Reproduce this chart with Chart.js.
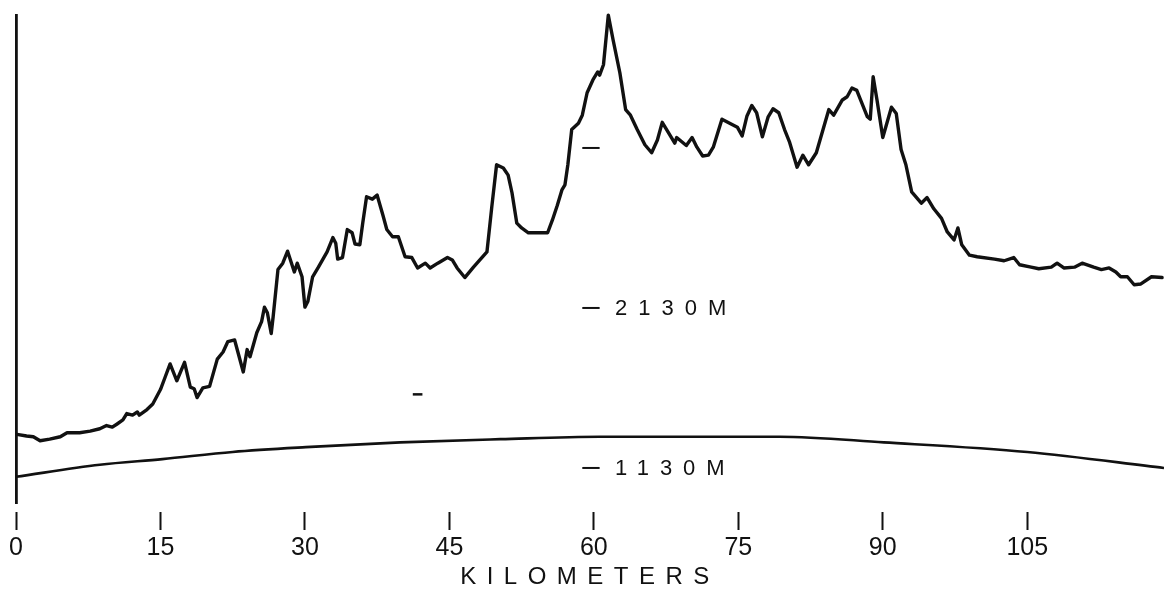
<!DOCTYPE html>
<html>
<head>
<meta charset="utf-8">
<title>Profile</title>
<script src="https://cdn.jsdelivr.net/npm/chart.js@4"></script>
<style>
  html, body { margin: 0; padding: 0; background: #fff; }
  #wrap { width: 1164px; height: 591px; position: relative; }
</style>
</head>
<body>
<div id="wrap"><canvas id="profile"></canvas></div>
<script>
// distance along the profile (km) and elevation (m)
const profileKm = [0.1,1.1,1.8,2.5,3.5,4.6,5.3,6.6,7.7,8.7,
  9.4,10.0,10.5,11.1,11.5,12.1,12.6,12.8,13.6,14.2,
  15.0,15.5,16.0,16.7,17.5,18.1,18.5,18.8,19.4,20.1,
  20.9,21.5,22.0,22.7,23.6,24.0,24.3,25.0,25.5,25.8,
  26.1,26.5,26.7,27.2,27.7,28.2,28.9,29.2,29.7,30.0,
  30.3,30.8,31.4,32.3,32.9,33.2,33.4,33.9,34.4,34.9,
  35.2,35.7,36.0,36.4,37.0,37.5,38.1,38.5,39.1,39.7,
  40.4,41.1,41.7,42.5,43.0,43.8,44.8,45.3,45.8,46.6,
  47.5,48.9,49.4,49.9,50.6,51.1,51.5,52.0,52.5,53.2,
  55.2,55.7,56.2,56.7,57.0,57.3,57.7,58.4,58.8,59.3,
  59.9,60.4,60.6,61.0,61.5,62.0,62.7,63.3,63.8,64.5,
  65.3,66.0,66.6,67.1,67.9,68.4,68.6,69.6,70.2,70.7,
  71.3,71.9,72.4,73.3,74.1,74.9,75.4,75.9,76.4,76.9,
  77.5,78.1,78.6,79.2,79.8,80.3,81.1,81.7,82.3,83.1,
  84.4,84.9,85.8,86.3,86.8,87.3,88.4,88.7,89.0,89.4,
  90.0,90.9,91.4,91.9,92.4,93.0,94.0,94.6,95.3,96.1,
  96.7,97.4,97.8,98.2,99.0,99.8,101.6,102.6,103.6,104.2,
  105.4,106.2,107.5,108.1,108.8,109.9,110.7,111.9,112.7,113.5,
  114.2,114.7,115.4,116.1,116.8,117.9,119.0];
const profileElev = [1340,1330,1325,1300,1310,1325,1350,1350,1360,1375,
  1395,1385,1405,1430,1470,1460,1480,1460,1495,1530,
  1620,1700,1780,1675,1790,1635,1625,1570,1630,1640,
  1810,1855,1920,1930,1730,1870,1825,1975,2045,2135,
  2100,1970,2075,2370,2410,2485,2355,2410,2325,2135,
  2170,2325,2385,2480,2570,2535,2435,2445,2620,2600,
  2530,2525,2660,2825,2810,2835,2710,2620,2575,2575,
  2450,2445,2380,2410,2380,2410,2445,2430,2380,2320,
  2385,2480,2760,3025,3005,2960,2850,2660,2630,2600,
  2600,2680,2770,2870,2900,3025,3245,3285,3335,3475,
  3555,3605,3585,3650,3960,3805,3600,3370,3335,3245,
  3150,3100,3180,3290,3210,3160,3195,3145,3195,3135,
  3080,3085,3135,3310,3285,3260,3205,3330,3395,3350,
  3200,3325,3375,3350,3245,3170,3010,3085,3025,3100,
  3370,3335,3430,3450,3505,3490,3325,3310,3575,3430,
  3195,3385,3345,3120,3025,2855,2785,2820,2750,2690,
  2605,2555,2630,2525,2460,2450,2435,2425,2445,2400,
  2385,2375,2385,2410,2380,2385,2410,2385,2370,2380,
  2355,2325,2325,2275,2280,2325,2320];

// lower reference curve
const baseKm = [0,8.7,15.2,22.5,30.1,39.9,50.3,60.6,71.0,79.3,90.1,105.0,119.2];
const baseElev = [1075,1150,1185,1230,1260,1290,1310,1325,1325,1325,1290,1230,1130];

const kmTicks = [0,15,30,45,60,75,90,105];

// level marks (m) and their labels
const levels = [3130,2130,1130];
const levelLabels = ['','2130M','1130M'];
const levelFrom = 58.8, levelTo = 60.6, levelTextAt = 62.2;
const strayFrom = 41.2, strayTo = 42.2, strayElev = 1590;

const INK = '#111';
const FONT = '"Liberation Sans", Arial, sans-serif';

let canvas = document.querySelector('#profile');

let datasets = [{
  data: profileKm.map((x, i) => ({x: x, y: profileElev[i]})),
  borderColor: INK, borderWidth: 3.4, pointRadius: 0, tension: 0,
  borderJoinStyle: 'round', borderCapStyle: 'round', clip: false
}, {
  data: baseKm.map((x, i) => ({x: x, y: baseElev[i]})),
  borderColor: INK, borderWidth: 2.6, pointRadius: 0,
  cubicInterpolationMode: 'monotone', clip: false
}];
levels.forEach(lv => {
  datasets.push({
    data: [{x: levelFrom, y: lv}, {x: levelTo, y: lv}],
    borderColor: INK, borderWidth: 2, pointRadius: 0
  });
});
datasets.push({
  data: [{x: strayFrom, y: strayElev}, {x: strayTo, y: strayElev}],
  borderColor: INK, borderWidth: 2.5, pointRadius: 0
});

const levelText = {
  id: 'levelText',
  beforeDraw(c) { c.ctx.letterSpacing = '10.5px'; },   // only the axis title is drawn in this layer
  beforeDatasetsDraw(c) { c.ctx.letterSpacing = '0px'; },
  afterDatasetsDraw(c) {
    const ctx = c.ctx, xs = c.scales.x, ys = c.scales.y;
    ctx.save();
    ctx.letterSpacing = '11px';
    ctx.font = '22px ' + FONT;
    ctx.fillStyle = INK;
    ctx.textBaseline = 'middle';
    ctx.textAlign = 'left';
    levels.forEach((lv, i) => {
      if (!levelLabels[i]) return;
      ctx.fillText(levelLabels[i], xs.getPixelForValue(levelTextAt), ys.getPixelForValue(lv) + 1);
    });
    ctx.restore();
  }
};

new Chart(canvas, {
  type: 'line',
  data: { datasets: datasets },
  plugins: [levelText],
  options: {
    responsive: true,
    maintainAspectRatio: false,
    animation: false,
    layout: { padding: { left: 16, top: 15, right: 0, bottom: 0 } },
    plugins: { legend: { display: false }, tooltip: { enabled: false } },
    scales: {
      x: {
        type: 'linear', min: 0, max: 119.2,
        afterBuildTicks: s => { s.ticks = kmTicks.map(v => ({value: v})); },
        ticks: {
          autoSkip: false, maxRotation: 0, padding: 6, z: 1, color: INK,
          font: { family: FONT, size: 25, lineHeight: 1 }
        },
        grid: {
          drawOnChartArea: false, drawTicks: true, tickLength: 27,
          tickWidth: 2, tickColor: INK, tickBorderDash: [0, 9, 18, 40]
        },
        border: { display: false },
        title: {
          display: true, text: 'KILOMETERS', color: INK,
          font: { family: FONT, size: 24, lineHeight: 0.8333 },
          padding: { top: 0, bottom: 4 }
        }
      },
      y: {
        type: 'linear', min: 911, max: 3961,
        ticks: { display: false },
        grid: { display: false, drawTicks: false },
        border: { display: true, color: INK, width: 2.8 }
      }
    }
  }
});
</script>
</body>
</html>
